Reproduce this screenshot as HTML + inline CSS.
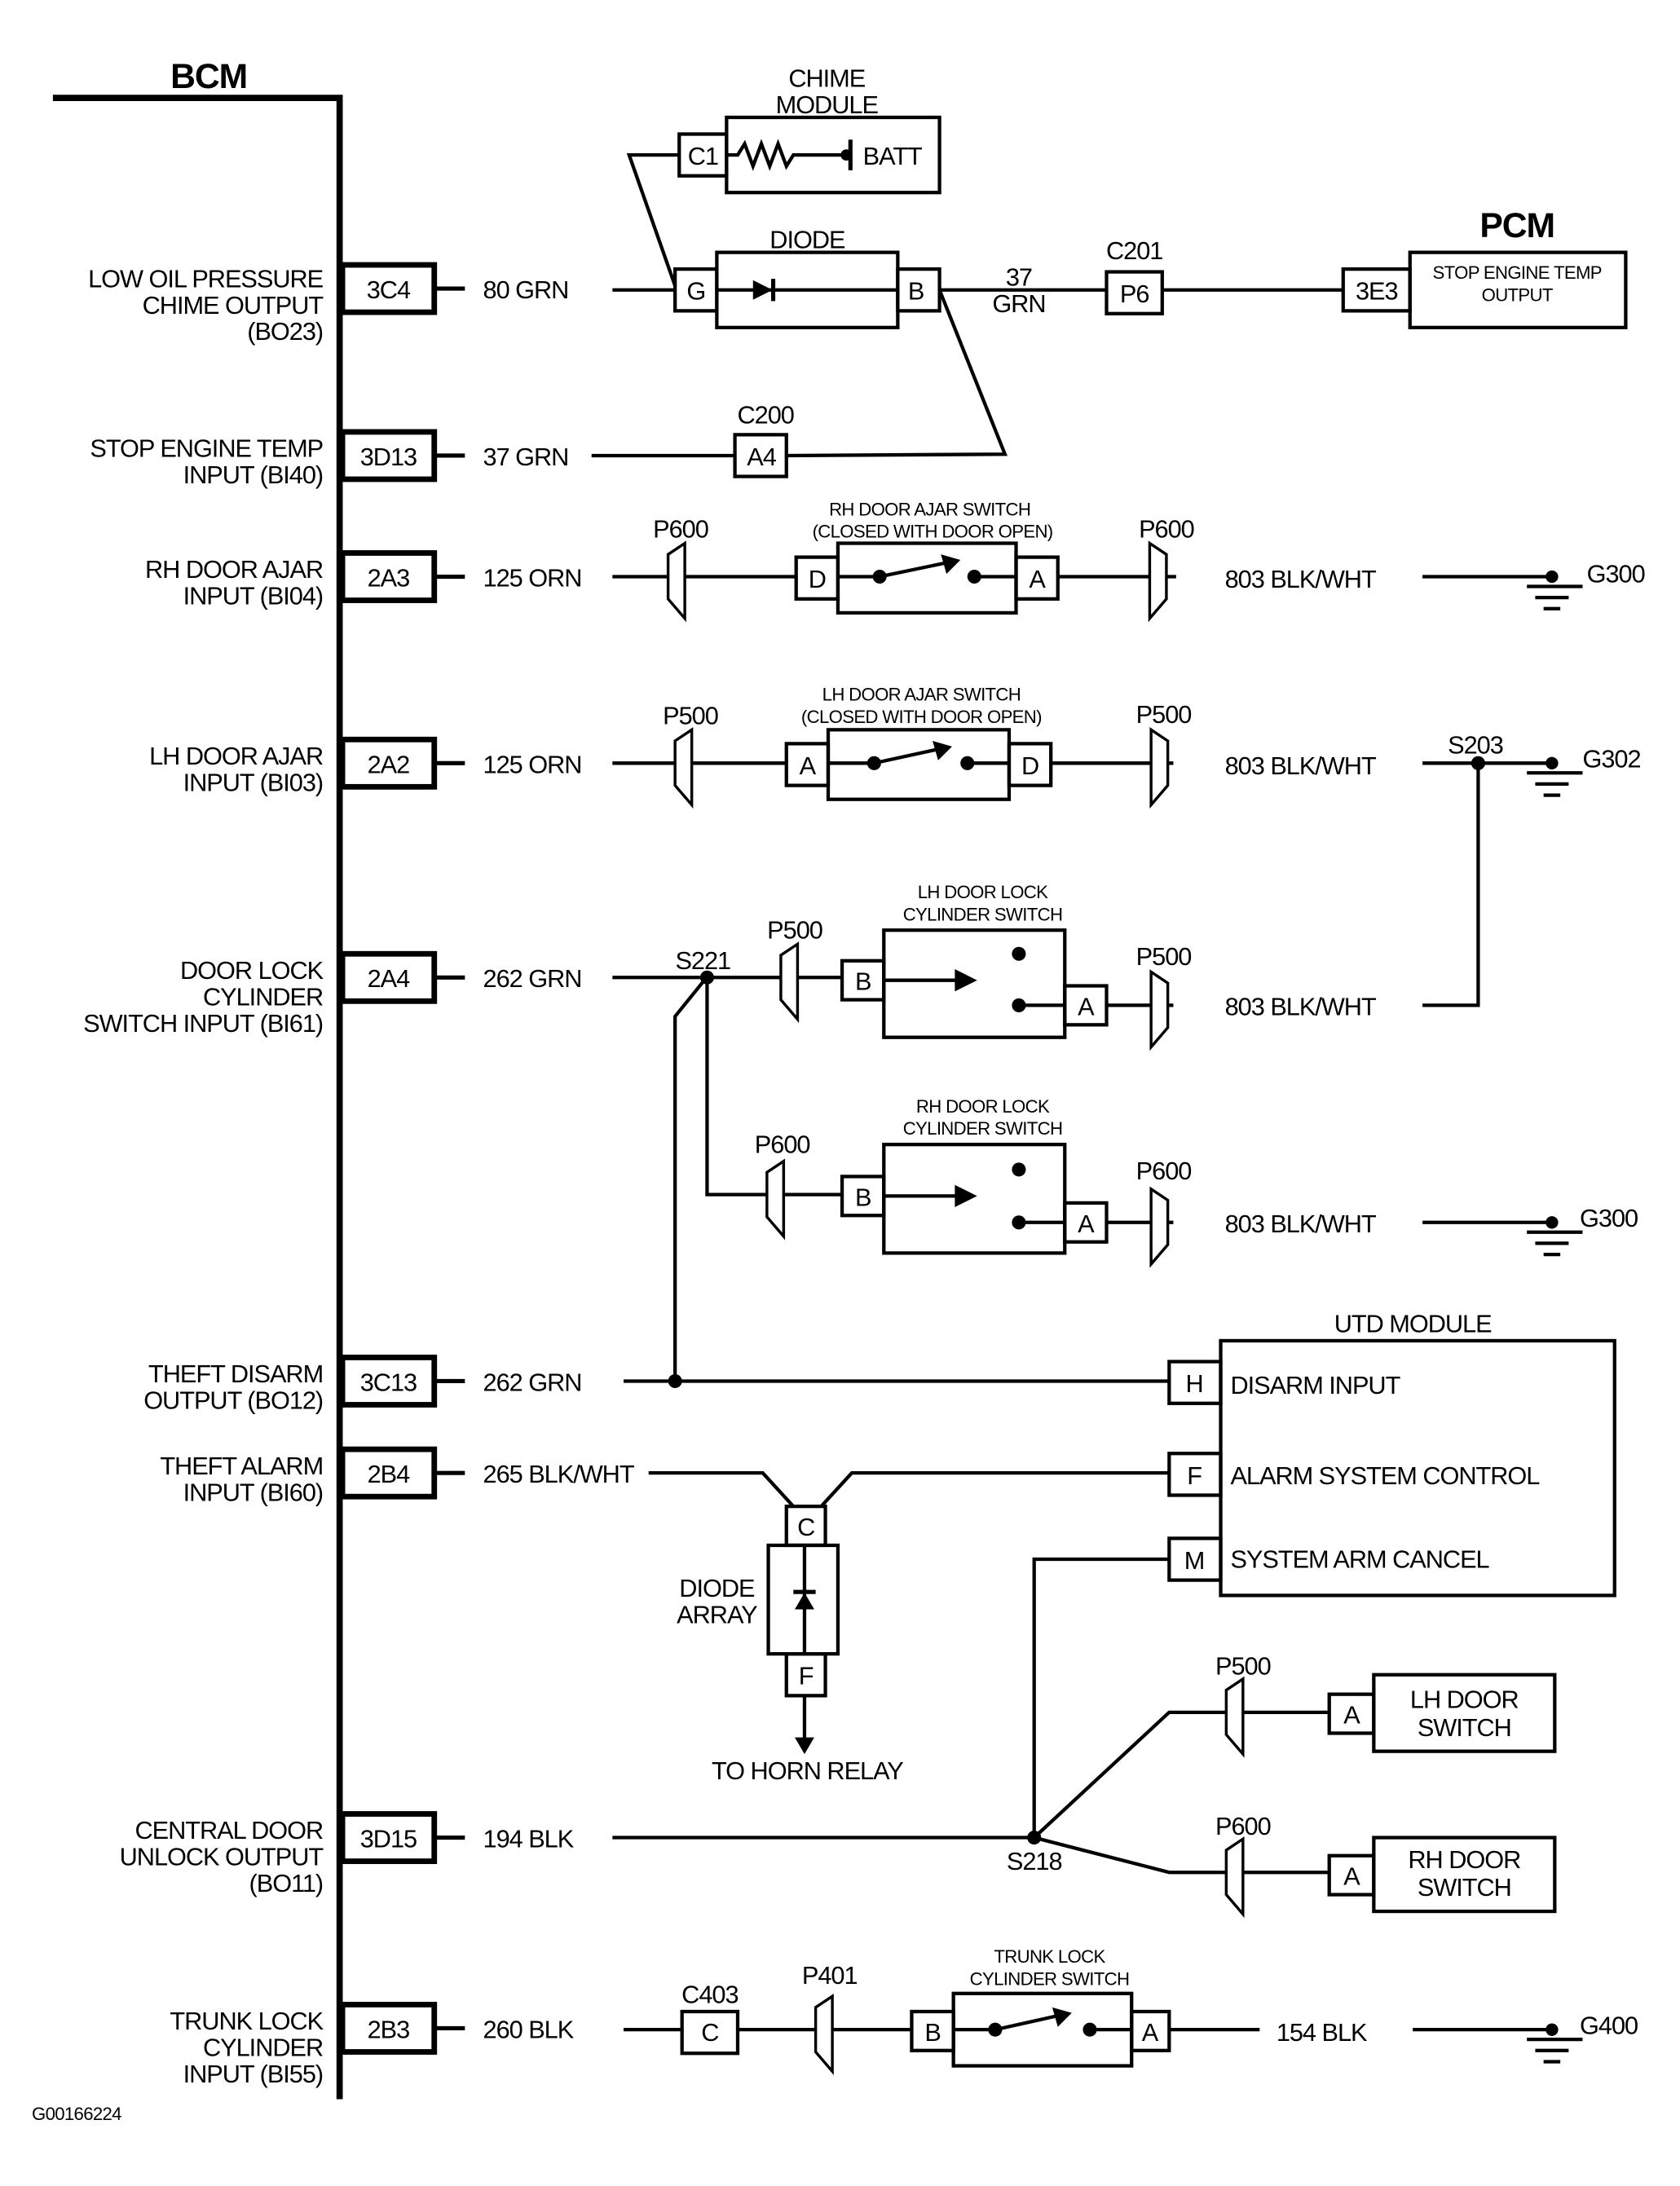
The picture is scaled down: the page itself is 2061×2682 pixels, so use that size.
<!DOCTYPE html>
<html><head><meta charset="utf-8"><style>
html,body{margin:0;padding:0;background:#fff}
svg{display:block}
text{font-family:"Liberation Sans",Arial,sans-serif;fill:#000}
</style></head><body>
<svg width="2061" height="2682" viewBox="0 0 1207 1570" xmlns="http://www.w3.org/2000/svg">
<defs>
<polygon id="pc" points="-6,-16 6,-24 6,30 -6,16" fill="#fff" stroke="#000" stroke-width="2"/>
<polygon id="pcr" points="-6,-24 6,-16 6,16 -6,30" fill="#fff" stroke="#000" stroke-width="2"/>
<g id="gnd"><circle cx="0" cy="0" r="4.5" fill="#000"/><line x1="-18" y1="7" x2="22" y2="7" stroke="#000" stroke-width="2.5"/><line x1="-12" y1="15" x2="12" y2="15" stroke="#000" stroke-width="2.5"/><line x1="-6" y1="23" x2="6" y2="23" stroke="#000" stroke-width="2.5"/></g>
</defs>
<g fill="none" stroke="#000" stroke-width="2.5">
<polyline points="38,70 244,70 244,1508" stroke-width="4.5"/>
<g stroke-width="4">
<rect x="246" y="190" width="66" height="34"/><rect x="246" y="310" width="66" height="34"/>
<rect x="246" y="397" width="66" height="34"/><rect x="246" y="531" width="66" height="34"/>
<rect x="246" y="685" width="66" height="34"/><rect x="246" y="975" width="66" height="34"/>
<rect x="246" y="1041" width="66" height="34"/><rect x="246" y="1303" width="66" height="34"/>
<rect x="246" y="1440" width="66" height="34"/>
</g>
<g stroke-width="3">
<line x1="312" y1="207" x2="334" y2="207"/><line x1="312" y1="327" x2="334" y2="327"/>
<line x1="312" y1="414" x2="334" y2="414"/><line x1="312" y1="548" x2="334" y2="548"/>
<line x1="312" y1="702" x2="334" y2="702"/><line x1="312" y1="992" x2="334" y2="992"/>
<line x1="312" y1="1058" x2="334" y2="1058"/><line x1="312" y1="1320" x2="334" y2="1320"/>
<line x1="312" y1="1457" x2="334" y2="1457"/>
</g>
<rect x="522" y="84" width="153" height="54"/>
<rect x="488" y="96" width="34" height="30"/>
<polyline points="522,111 530,111 535,103 541,119 547,103 553,119 559,103 565,119 570,111 608,111"/>
<line x1="611" y1="100" x2="611" y2="122" stroke-width="3"/>
<polyline points="488,111 452,111 485,205"/>
<line x1="440" y1="208" x2="485" y2="208"/>
<rect x="485" y="193" width="30" height="30"/>
<rect x="515" y="181" width="130" height="54"/>
<rect x="645" y="193" width="30" height="30"/>
<line x1="515" y1="208" x2="645" y2="208"/>
<line x1="675" y1="208" x2="795" y2="208"/>
<rect x="795" y="195" width="40" height="30"/>
<line x1="835" y1="208" x2="965" y2="208"/>
<rect x="965" y="193" width="48" height="30"/>
<rect x="1013" y="181" width="155" height="54"/>
<polyline points="675,208 722,326 565,327"/>
<line x1="425" y1="327" x2="528" y2="327"/>
<rect x="528" y="312" width="37" height="30"/>
<line x1="440" y1="414" x2="572" y2="414"/>
<rect x="572" y="400" width="30" height="30"/><rect x="602" y="390" width="128" height="50"/><rect x="730" y="400" width="30" height="30"/>
<line x1="602" y1="414" x2="632" y2="414"/><line x1="700" y1="414" x2="730" y2="414"/>
<line x1="632" y1="414" x2="680" y2="404"/>
<line x1="760" y1="414" x2="845" y2="414"/>
<line x1="1022" y1="414" x2="1115" y2="414"/>
<line x1="440" y1="548" x2="565" y2="548"/>
<rect x="565" y="534" width="30" height="30"/><rect x="595" y="524" width="130" height="50"/><rect x="725" y="534" width="30" height="30"/>
<line x1="595" y1="548" x2="628" y2="548"/><line x1="695" y1="548" x2="725" y2="548"/>
<line x1="628" y1="548" x2="674" y2="538"/>
<line x1="755" y1="548" x2="843" y2="548"/>
<line x1="1022" y1="548" x2="1115" y2="548"/>
<polyline points="1062,548 1062,722 1022,722"/>
<line x1="440" y1="702" x2="605" y2="702"/>
<rect x="605" y="690" width="30" height="28"/><rect x="635" y="668" width="130" height="77"/><rect x="765" y="708" width="30" height="28"/>
<line x1="635" y1="704" x2="690" y2="704"/>
<line x1="732" y1="722" x2="765" y2="722"/>
<line x1="795" y1="722" x2="843" y2="722"/>
<polyline points="508,702 508,858 605,858"/>
<rect x="605" y="845" width="30" height="28"/><rect x="635" y="822" width="130" height="78"/><rect x="765" y="864" width="30" height="28"/>
<line x1="635" y1="859" x2="690" y2="859"/>
<line x1="732" y1="878" x2="765" y2="878"/>
<line x1="795" y1="878" x2="843" y2="878"/>
<line x1="1022" y1="878" x2="1115" y2="878"/>
<polyline points="506,704 485,730 485,992"/>
<line x1="448" y1="992" x2="840" y2="992"/>
<rect x="840" y="978" width="37" height="30"/>
<rect x="877" y="963" width="283" height="183"/>
<rect x="840" y="1044" width="37" height="30"/>
<rect x="840" y="1105" width="37" height="30"/>
<polyline points="466,1058 548,1058 570,1082"/>
<polyline points="840,1058 612,1058 590,1082"/>
<rect x="565" y="1082" width="28" height="28"/>
<rect x="552" y="1110" width="50" height="78"/>
<rect x="565" y="1188" width="28" height="30"/>
<line x1="578" y1="1110" x2="578" y2="1188"/>
<line x1="578" y1="1218" x2="578" y2="1250"/>
<polyline points="840,1120 743,1120 743,1320"/>
<line x1="440" y1="1320" x2="743" y2="1320"/>
<polyline points="743,1320 840,1230 955,1230"/>
<polyline points="743,1320 840,1345 955,1345"/>
<rect x="955" y="1217" width="32" height="28"/><rect x="987" y="1203" width="130" height="55"/>
<rect x="955" y="1333" width="32" height="28"/><rect x="987" y="1320" width="130" height="53"/>
<line x1="448" y1="1458" x2="490" y2="1458"/>
<rect x="490" y="1445" width="40" height="30"/>
<line x1="530" y1="1458" x2="655" y2="1458"/>
<rect x="655" y="1445" width="30" height="28"/><rect x="685" y="1432" width="128" height="52"/><rect x="813" y="1445" width="27" height="28"/>
<line x1="685" y1="1458" x2="715" y2="1458"/><line x1="783" y1="1458" x2="813" y2="1458"/>
<line x1="715" y1="1458" x2="760" y2="1448"/>
<line x1="840" y1="1458" x2="905" y2="1458"/>
<line x1="1015" y1="1458" x2="1115" y2="1458"/>
</g>
<g fill="#000">
<circle cx="608" cy="111" r="4"/>
<polygon points="541,201 541,215 555,208"/><rect x="554" y="200" width="3" height="16"/>
<circle cx="632" cy="414" r="5"/><circle cx="700" cy="414" r="5"/><polygon points="676,398 690,402 680,412"/>
<circle cx="628" cy="548" r="5"/><circle cx="695" cy="548" r="5"/><polygon points="670,532 684,536 674,546"/>
<circle cx="715" cy="1458" r="5"/><circle cx="783" cy="1458" r="5"/><polygon points="756,1442 770,1446 760,1456"/>
<circle cx="508" cy="702" r="5"/><circle cx="1062" cy="548" r="5"/>
<polygon points="686,696 702,704 686,712"/><circle cx="732" cy="685" r="5"/><circle cx="732" cy="722" r="5"/>
<polygon points="686,851 702,859 686,867"/><circle cx="732" cy="840" r="5"/><circle cx="732" cy="878" r="5"/>
<circle cx="485" cy="992" r="5"/><circle cx="743" cy="1320" r="5"/>
<polygon points="571,1156 585,1156 578,1144"/><rect x="570" y="1142" width="16" height="3"/>
<polygon points="571,1248 585,1248 578,1260"/>
</g>
<use href="#pc" x="486" y="414"/><use href="#pcr" x="832" y="414"/>
<use href="#pc" x="491" y="548"/><use href="#pcr" x="833" y="548"/>
<use href="#pc" x="567" y="702"/><use href="#pcr" x="833" y="722"/>
<use href="#pc" x="557" y="858"/><use href="#pcr" x="833" y="878"/>
<use href="#pc" x="887" y="1230"/><use href="#pc" x="887" y="1345"/>
<use href="#pc" x="592" y="1458"/>
<use href="#gnd" x="1115" y="414"/><use href="#gnd" x="1115" y="548"/>
<use href="#gnd" x="1115" y="878"/><use href="#gnd" x="1115" y="1458"/>
<g font-size="18" letter-spacing="-0.6">
<text x="150" y="63" font-size="25" font-weight="bold" text-anchor="middle">BCM</text>
<text x="1090" y="170" font-size="25" font-weight="bold" text-anchor="middle">PCM</text>
<g text-anchor="end">
<text x="232" y="206">LOW OIL PRESSURE</text><text x="232" y="225">CHIME OUTPUT</text><text x="232" y="244">(BO23)</text>
<text x="232" y="328">STOP ENGINE TEMP</text><text x="232" y="347">INPUT (BI40)</text>
<text x="232" y="415">RH DOOR AJAR</text><text x="232" y="434">INPUT (BI04)</text>
<text x="232" y="549">LH DOOR AJAR</text><text x="232" y="568">INPUT (BI03)</text>
<text x="232" y="703">DOOR LOCK</text><text x="232" y="722">CYLINDER</text><text x="232" y="741">SWITCH INPUT (BI61)</text>
<text x="232" y="993">THEFT DISARM</text><text x="232" y="1012">OUTPUT (BO12)</text>
<text x="232" y="1059">THEFT ALARM</text><text x="232" y="1078">INPUT (BI60)</text>
<text x="232" y="1321">CENTRAL DOOR</text><text x="232" y="1340">UNLOCK OUTPUT</text><text x="232" y="1359">(BO11)</text>
<text x="232" y="1458">TRUNK LOCK</text><text x="232" y="1477">CYLINDER</text><text x="232" y="1496">INPUT (BI55)</text>
</g>
<g text-anchor="middle">
<text x="279" y="214">3C4</text><text x="279" y="334">3D13</text><text x="279" y="421">2A3</text>
<text x="279" y="555">2A2</text><text x="279" y="709">2A4</text><text x="279" y="999">3C13</text>
<text x="279" y="1065">2B4</text><text x="279" y="1327">3D15</text><text x="279" y="1464">2B3</text>
<text x="594" y="62">CHIME</text><text x="594" y="81">MODULE</text>
<text x="505" y="118">C1</text><text x="580" y="178">DIODE</text>
<text x="500" y="215">G</text><text x="658" y="215">B</text>
<text x="732" y="205">37</text><text x="732" y="224">GRN</text>
<text x="815" y="186">C201</text><text x="815" y="217">P6</text>
<text x="989" y="215">3E3</text>
<text x="550" y="304">C200</text><text x="547" y="334">A4</text>
<text x="489" y="386">P600</text><text x="838" y="386">P600</text>
<text x="587" y="422">D</text><text x="745" y="422">A</text>
<text x="496" y="520">P500</text><text x="836" y="519">P500</text>
<text x="580" y="556">A</text><text x="740" y="556">D</text>
<text x="1060" y="541">S203</text>
<text x="505" y="696">S221</text><text x="571" y="674">P500</text><text x="836" y="693">P500</text>
<text x="620" y="711">B</text><text x="780" y="729">A</text>
<text x="562" y="828">P600</text><text x="836" y="847">P600</text>
<text x="620" y="866">B</text><text x="780" y="885">A</text>
<text x="1015" y="957">UTD MODULE</text>
<text x="858" y="1000">H</text><text x="858" y="1066">F</text><text x="858" y="1127">M</text>
<text x="579" y="1103">C</text><text x="579" y="1210">F</text>
<text x="515" y="1147">DIODE</text><text x="515" y="1166">ARRAY</text>
<text x="580" y="1278">TO HORN RELAY</text>
<text x="893" y="1203">P500</text><text x="893" y="1318">P600</text>
<text x="743" y="1343">S218</text>
<text x="971" y="1238">A</text><text x="971" y="1354">A</text>
<text x="1052" y="1227">LH DOOR</text><text x="1052" y="1247">SWITCH</text>
<text x="1052" y="1342">RH DOOR</text><text x="1052" y="1362">SWITCH</text>
<text x="510" y="1439">C403</text><text x="510" y="1466">C</text>
<text x="596" y="1425">P401</text>
<text x="670" y="1466">B</text><text x="826" y="1466">A</text>
</g>
<text x="620" y="118">BATT</text>
<text x="347" y="214">80 GRN</text><text x="347" y="334">37 GRN</text>
<text x="347" y="421">125 ORN</text><text x="347" y="555">125 ORN</text>
<text x="347" y="709">262 GRN</text><text x="347" y="999">262 GRN</text>
<text x="347" y="1065">265 BLK/WHT</text><text x="347" y="1327">194 BLK</text>
<text x="347" y="1464">260 BLK</text>
<text x="880" y="422">803 BLK/WHT</text><text x="880" y="556">803 BLK/WHT</text>
<text x="880" y="729">803 BLK/WHT</text><text x="880" y="885">803 BLK/WHT</text>
<text x="917" y="1466">154 BLK</text>
<text x="1140" y="418">G300</text><text x="1137" y="551">G302</text>
<text x="1135" y="881">G300</text><text x="1135" y="1461">G400</text>
<text x="884" y="1001">DISARM INPUT</text><text x="884" y="1066">ALARM SYSTEM CONTROL</text><text x="884" y="1126">SYSTEM ARM CANCEL</text>
</g>
<g font-size="13" text-anchor="middle" letter-spacing="-0.4">
<text x="1090" y="200">STOP ENGINE TEMP</text><text x="1090" y="216">OUTPUT</text>
<text x="668" y="370">RH DOOR AJAR SWITCH</text><text x="670" y="386">(CLOSED WITH DOOR OPEN)</text>
<text x="662" y="503">LH DOOR AJAR SWITCH</text><text x="662" y="519">(CLOSED WITH DOOR OPEN)</text>
<text x="706" y="645">LH DOOR LOCK</text><text x="706" y="661">CYLINDER SWITCH</text>
<text x="706" y="799">RH DOOR LOCK</text><text x="706" y="815">CYLINDER SWITCH</text>
<text x="754" y="1410">TRUNK LOCK</text><text x="754" y="1426">CYLINDER SWITCH</text>
<text x="55" y="1523">G00166224</text>
</g>
</svg>
</body></html>
